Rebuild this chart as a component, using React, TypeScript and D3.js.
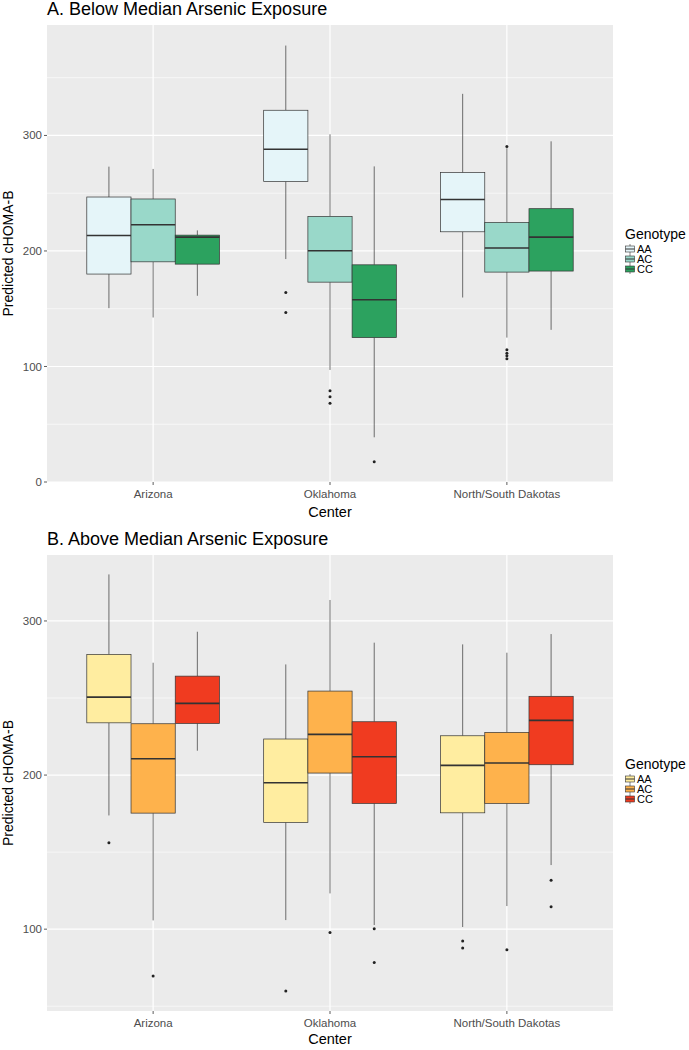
import React, { useEffect } from "react";
import * as d3 from "d3";

const centers = ["Arizona", "Oklahoma", "North/South Dakotas"];
const genotypes = ["AA", "AC", "CC"];

// [lower whisker, Q1, median, Q3, upper whisker] per center
const belowAA = [[150.5, 180, 213.4, 246.7, 273], [193, 260.2, 288, 321.8, 377.8], [159.7, 216.6, 244.6, 267.8, 336]];
const belowAC = [[142.4, 190.6, 222.7, 245, 271], [97, 173, 200.2, 229.9, 301], [125, 181.7, 202.5, 224.7, 289]];
const belowCC = [[161.2, 188.6, 212, 213.7, 217.8], [38.7, 125, 157.7, 188, 273.2], [131.7, 182.6, 212, 236.6, 294.9]];
const belowOutAA = [[], [164, 146.7], []];
const belowOutAC = [[], [79, 73.7, 68.2], [290.5, 114.4, 111.5, 109.2, 106.6]];
const belowOutCC = [[], [17.6], []];

const aboveAA = [[173.8, 233.9, 250.6, 278.3, 330.2], [105.9, 169.3, 195, 223.4, 271.8], [101.4, 175.5, 206.3, 225.5, 284.8]];
const aboveAC = [[105.7, 175.3, 210.6, 233.3, 272.9], [123.2, 201.3, 226.4, 254.5, 313.6], [115, 181.6, 207.8, 227.7, 279.4]];
const aboveCC = [[215.8, 233.5, 246.5, 264.2, 293], [102.7, 181.6, 211.9, 234.6, 285.9], [141.6, 206.7, 235.5, 251.1, 291.5]];
const aboveOutAA = [[156.1], [59.8], [92.3, 87.7]];
const aboveOutAC = [[69.6], [97.9], [86.6]];
const aboveOutCC = [[], [100.3, 78.4], [131.7, 114.5]];

const belowTicks = [0, 100, 200, 300];
const belowMinor = [50, 150, 250, 350];
const aboveTicks = [100, 200, 300];
const aboveMinor = [50, 150, 250];

const belowColors = ["#e5f5f9", "#99d8c9", "#2ca25f"];
const aboveColors = ["#ffeda0", "#feb24c", "#f03b20"];

const FONT = "'Liberation Sans', Arial, Helvetica, sans-serif";
const W = 689;
const H = 1050;
const PL = 47;
const PR = 613;

type PanelProps = {
  title: string;
  top: number;
  bottom: number;
  domain: [number, number];
  ticks: number[];
  minor: number[];
  stats: number[][][];
  outliers: number[][][];
  colors: string[];
  legendY: number;
  labelOff: number;
  axisTitleOff: number;
};

function Panel(p: PanelProps) {
  const y = d3.scaleLinear().domain(p.domain).range([p.bottom, p.top]);
  const x = d3.scaleBand<string>().domain(centers).range([PL, PR]).paddingInner(0).paddingOuter(0.1);
  const step = x.step();
  const sub = d3.scaleBand<string>().domain(genotypes).range([-0.375 * step, 0.375 * step]).padding(0);
  const bw = sub.bandwidth();
  const stroke = "#333333";
  return (
    <g>
      <text x={PL} y={p.top - 10} fontSize={18} fontFamily={FONT} fill="#000">{p.title}</text>
      <rect x={PL} y={p.top} width={PR - PL} height={p.bottom - p.top} fill="#EBEBEB" />
      {p.minor.map((t) => (
        <line key={"mi" + t} x1={PL} x2={PR} y1={y(t)} y2={y(t)} stroke="#fff" strokeWidth={0.6} />
      ))}
      {p.ticks.map((t) => (
        <line key={"ma" + t} x1={PL} x2={PR} y1={y(t)} y2={y(t)} stroke="#fff" strokeWidth={1.2} />
      ))}
      {centers.map((c) => (
        <line key={"v" + c} x1={x(c)! + step / 2} x2={x(c)! + step / 2} y1={p.top} y2={p.bottom} stroke="#fff" strokeWidth={1.2} />
      ))}
      {genotypes.map((g, gi) =>
        centers.map((c, ci) => {
          const s = p.stats[gi][ci];
          const cx = x(c)! + step / 2 + sub(g)! + bw / 2;
          const x0 = cx - bw / 2;
          return (
            <g key={g + c}>
              <line x1={cx} x2={cx} y1={y(s[0])} y2={y(s[1])} stroke={stroke} strokeWidth={0.7} />
              <line x1={cx} x2={cx} y1={y(s[3])} y2={y(s[4])} stroke={stroke} strokeWidth={0.7} />
              <rect x={x0} y={y(s[3])} width={bw} height={y(s[1]) - y(s[3])} fill={p.colors[gi]} stroke={stroke} strokeWidth={0.7} />
              <line x1={x0} x2={x0 + bw} y1={y(s[2])} y2={y(s[2])} stroke={stroke} strokeWidth={1.6} />
              {p.outliers[gi][ci].map((o, oi) => (
                <circle key={oi} cx={cx} cy={y(o)} r={1.5} fill="#222" />
              ))}
            </g>
          );
        })
      )}
      {p.ticks.map((t) => (
        <g key={"t" + t}>
          <line x1={PL - 3} x2={PL} y1={y(t)} y2={y(t)} stroke="#333" strokeWidth={0.8} />
          <text x={PL - 5} y={y(t)} dy="0.35em" textAnchor="end" fontSize={11.5} fontFamily={FONT} fill="#4D4D4D">{t}</text>
        </g>
      ))}
      {centers.map((c) => (
        <g key={"xl" + c}>
          <line x1={x(c)! + step / 2} x2={x(c)! + step / 2} y1={p.bottom} y2={p.bottom + 3} stroke="#333" strokeWidth={0.8} />
          <text x={x(c)! + step / 2} y={p.bottom + p.labelOff} textAnchor="middle" fontSize={11.5} fontFamily={FONT} fill="#4D4D4D">{c}</text>
        </g>
      ))}
      <text x={(PL + PR) / 2} y={p.bottom + p.axisTitleOff} textAnchor="middle" fontSize={14.5} fontFamily={FONT} fill="#000">Center</text>
      <text transform={`translate(13,${(p.top + p.bottom) / 2}) rotate(-90)`} textAnchor="middle" fontSize={14} fontFamily={FONT} fill="#000">Predicted cHOMA-B</text>
      <g>
        <text x={625} y={p.legendY} fontSize={14} fontFamily={FONT} fill="#000">Genotype</text>
        {genotypes.map((g, gi) => {
          const ky = p.legendY + 10 + gi * 10;
          return (
            <g key={"lg" + g}>
              <line x1={630} x2={630} y1={ky - 5} y2={ky + 5} stroke={stroke} strokeWidth={0.6} />
              <rect x={625.5} y={ky - 3} width={9} height={6} fill={p.colors[gi]} stroke={stroke} strokeWidth={0.6} />
              <line x1={625.5} x2={634.5} y1={ky} y2={ky} stroke={stroke} strokeWidth={1} />
              <text x={637} y={ky} dy="0.35em" fontSize={11} fontFamily={FONT} fill="#000">{g}</text>
            </g>
          );
        })}
      </g>
    </g>
  );
}

export default function App() {
  useEffect(() => {
    document.body.style.margin = "0";
  }, []);
  return (
    <div style={{ position: "absolute", left: 0, top: 0 }}>
      <svg width={W} height={H} style={{ display: "block", background: "#fff" }}>
        <Panel
          title="A. Below Median Arsenic Exposure"
          top={25}
          bottom={482}
          domain={[0, 395.6]}
          ticks={belowTicks}
          minor={belowMinor}
          stats={[belowAA, belowAC, belowCC]}
          outliers={[belowOutAA, belowOutAC, belowOutCC]}
          colors={belowColors}
          legendY={239}
          labelOff={16}
          axisTitleOff={35}
        />
        <Panel
          title="B. Above Median Arsenic Exposure"
          top={555}
          bottom={1011}
          domain={[46.9, 342.8]}
          ticks={aboveTicks}
          minor={aboveMinor}
          stats={[aboveAA, aboveAC, aboveCC]}
          outliers={[aboveOutAA, aboveOutAC, aboveOutCC]}
          colors={aboveColors}
          legendY={769}
          labelOff={16}
          axisTitleOff={33}
        />
      </svg>
    </div>
  );
}
